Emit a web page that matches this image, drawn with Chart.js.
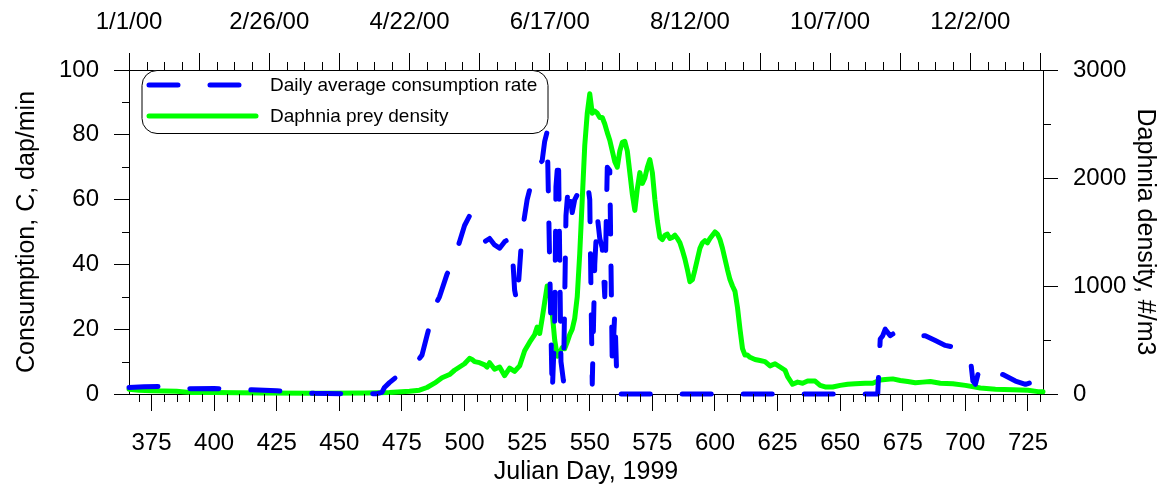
<!DOCTYPE html>
<html>
<head>
<meta charset="utf-8">
<script src="https://cdn.jsdelivr.net/npm/chart.js@4.4.1/dist/chart.umd.min.js"></script>
<style>
  html, body { margin: 0; padding: 0; background: #fff; }
  #wrap { width: 1162px; height: 487px; }
</style>
</head>
<body>
<div id="wrap"><canvas id="chart" width="1162" height="487"></canvas></div>
<script>
// Daily average consumption rate (dap/min), by Julian day
const consumptionDays = [366, 372, 380, 385, 390, 400, 405, 415, 425, 432, 440, 455, 465, 467, 468, 470, 474, 480, 483, 485, 488, 490, 493, 495, 498, 500, 502, 503, 505, 506, 508, 510, 512, 514, 516, 518, 519, 520, 521, 523, 525, 527, 529, 531, 532, 533, 534, 535, 536, 536.5, 537.5, 538.5, 539.5, 540.5, 541.5, 543, 544, 546, 548, 549, 550, 551, 552, 553, 554, 555, 556, 557, 558, 559, 560, 561, 600, 665, 666, 667, 668, 670, 672, 676, 680, 684, 688, 692, 698, 700, 702, 703, 704, 705, 707, 709, 711, 713, 715, 720, 724, 726, 728, 730];
const consumptionValues = [2.0, 2.2, 2.4, 2.0, 1.6, 1.7, 1.5, 1.3, 1.0, 0.5, 0.2, 0.0, 0.1, 0.5, 2.0, 3.5, 6, 9, 12, 18, 27, 30, 37, 40, 47, 52, 55, 54, 52, 51, 47, 48, 46, 45, 47, 48, 45, 32, 28, 50, 60, 66, 70, 72, 78, 81, 40, 0, 20, 64, 74, 10, 4, 55, 65, 56, 60, 63, 64, 66, 60, 3, 40, 55, 48, 45, 30, 70, 69, 8, 25.3, 0, 0, 0, 17, 18, 20, 18, 19, 18, 18, 18, 16.5, 15, 14, 12.5, 11, 4, 3, 6, 8, 7, 8, 6.5, 6, 4, 3, 3.5, 2.5, 1.5];

// Daphnia prey density (#/m3), by Julian day
const densityDays = [366, 370, 375, 380, 385, 390, 400, 420, 440, 460, 470, 478, 482, 485, 488, 491, 494, 496, 498, 500, 502, 503, 504, 506, 508, 509, 510, 512, 514, 516, 518, 520, 522, 524, 526, 528, 529, 530, 531, 532, 533, 534, 535, 536, 537, 538, 539, 540, 541, 542, 543, 544, 545, 546, 547, 548, 549, 550, 551, 552, 553, 554, 555, 556, 557, 558, 559, 560, 561, 562, 563, 564, 565, 566, 567, 568, 569, 570, 571, 572, 573, 574, 575, 576, 577, 578, 579, 580, 581, 582, 583, 584, 585, 586, 587, 588, 589, 590, 591, 592, 593, 594, 595, 596, 597, 598, 599, 600, 601, 602, 603, 604, 605, 606, 607, 608, 609, 610, 611, 612, 613, 614, 616, 618, 620, 622, 624, 626, 628, 629, 631, 633, 635, 637, 640, 642, 644, 647, 650, 653, 656, 660, 663, 666, 668, 671, 674, 677, 680, 683, 686, 690, 695, 700, 706, 712, 719, 725, 729, 731];
const densityValues = [45, 35, 30, 28, 25, 15, 15, 10, 8, 10, 15, 25, 35, 60, 100, 150, 180, 220, 250, 280, 330, 320, 300, 290, 270, 250, 290, 230, 250, 170, 240, 210, 260, 400, 480, 550, 620, 560, 700, 850, 1000, 950, 750, 500, 350, 380, 430, 420, 480, 550, 600, 700, 900, 1300, 1800, 2300, 2600, 2780, 2600, 2620, 2600, 2560, 2560, 2500, 2420, 2350, 2250, 2150, 2100, 2250, 2330, 2340, 2250, 2050, 1850, 1700, 1900, 2050, 1950, 2000, 2100, 2170, 2050, 1800, 1600, 1450, 1430, 1470, 1480, 1440, 1450, 1470, 1440, 1400, 1330, 1250, 1150, 1040, 1060, 1150, 1250, 1350, 1400, 1420, 1400, 1440, 1470, 1500, 1480, 1430, 1350, 1250, 1150, 1060, 1000, 950, 800, 600, 420, 360, 360, 340, 320, 310, 300, 260, 280, 250, 220, 160, 90, 110, 100, 120, 120, 80, 65, 65, 80, 90, 95, 100, 100, 130, 135, 140, 125, 115, 105, 110, 115, 100, 95, 80, 55, 45, 40, 35, 22, 20];

// Axis ticks
const dayTicks = [375, 400, 425, 450, 475, 500, 525, 550, 575, 600, 625, 650, 675, 700, 725];
const consumptionTicks = [0, 20, 40, 60, 80, 100];
const densityTicks = [0, 1000, 2000, 3000];
const dateTickDays = [366, 422, 478, 534, 590, 646, 702];
const dateTickLabels = ['1/1/00', '2/26/00', '4/22/00', '6/17/00', '8/12/00', '10/7/00', '12/2/00'];

const FONT = 'Liberation Sans, Arial, Helvetica, sans-serif';
const toPoints = (xs, ys) => xs.map((x, i) => ({ x: x, y: ys[i] }));

// every 28 days on the date axis, labelled every 56
const dateMajor = [];
for (let d = 366; d <= 731; d += 28) dateMajor.push(d);

// minor tick marks, drawn through each scale
const minorTicks = {
    id: 'minorTicks',
    afterDraw(chart) {
        const { ctx, scales } = chart;
        ctx.save();
        ctx.strokeStyle = '#000';
        ctx.lineWidth = 1;
        const line = (x1, y1, x2, y2) => {
            ctx.beginPath();
            ctx.moveTo(x1, y1);
            ctx.lineTo(x2, y2);
            ctx.stroke();
        };
        for (let d = 370; d <= 731; d += 5) {
            if (d % 25 === 0) continue;
            const px = Math.round(scales.x.getPixelForValue(d)) + 0.5;
            line(px, scales.x.top, px, scales.x.top + 8);
        }
        for (let d = 373; d <= 731; d += 7) {
            if ((d - 366) % 28 === 0) continue;
            const px = Math.round(scales.xTop.getPixelForValue(d)) + 0.5;
            line(px, scales.xTop.bottom, px, scales.xTop.bottom - 8);
        }
        [10, 30, 50, 70, 90].forEach(v => {
            const py = Math.round(scales.y.getPixelForValue(v)) + 0.5;
            line(scales.y.right - 7, py, scales.y.right, py);
        });
        [500, 1500, 2500].forEach(v => {
            const py = Math.round(scales.y2.getPixelForValue(v)) + 0.5;
            line(scales.y2.left, py, scales.y2.left + 8, py);
        });
        ctx.restore();
    }
};

// rounded legend box in the upper left of the plot
const boxLegend = {
    id: 'boxLegend',
    afterDraw(chart) {
        const ctx = chart.ctx;
        const ds = chart.data.datasets;
        const left = chart.chartArea.left + 13;
        const top = chart.chartArea.top;
        ctx.save();
        ctx.beginPath();
        ctx.roundRect(left, top + 0.5, 406, 63, 15);
        ctx.fillStyle = '#fff';
        ctx.fill();
        ctx.strokeStyle = '#000';
        ctx.lineWidth = 1;
        ctx.stroke();

        ctx.lineCap = 'round';
        ctx.lineWidth = 5;
        ctx.strokeStyle = ds[0].borderColor;
        ctx.setLineDash(ds[0].borderDash);
        ctx.beginPath();
        ctx.moveTo(left + 7, top + 15);
        ctx.lineTo(left + 98, top + 15);
        ctx.stroke();

        ctx.setLineDash([]);
        ctx.strokeStyle = ds[1].borderColor;
        ctx.beginPath();
        ctx.moveTo(left + 7, top + 46);
        ctx.lineTo(left + 114, top + 46);
        ctx.stroke();

        ctx.fillStyle = '#000';
        ctx.font = '19px ' + FONT;
        ctx.textBaseline = 'middle';
        ctx.fillText(ds[0].label, left + 128, top + 16);
        ctx.fillText(ds[1].label, left + 128, top + 47);
        ctx.restore();
    }
};

new Chart(document.getElementById('chart'), {
    type: 'line',
    data: {
        datasets: [
            {
                label: 'Daily average consumption rate',
                data: toPoints(consumptionDays, consumptionValues),
                yAxisID: 'y',
                borderColor: '#0000ff',
                borderWidth: 5,
                borderDash: [29, 32],
                borderCapStyle: 'round',
                borderJoinStyle: 'round',
                pointRadius: 0,
                tension: 0,
                clip: 6
            },
            {
                label: 'Daphnia prey density',
                data: toPoints(densityDays, densityValues),
                yAxisID: 'y2',
                borderColor: '#00ff00',
                borderWidth: 5,
                borderJoinStyle: 'round',
                borderCapStyle: 'round',
                pointRadius: 0,
                tension: 0,
                clip: 6
            }
        ]
    },
    options: {
        responsive: false,
        animation: false,
        devicePixelRatio: 1,
        layout: { padding: 0 },
        plugins: {
            legend: { display: false },
            tooltip: { enabled: false }
        },
        scales: {
            x: {
                type: 'linear',
                position: 'bottom',
                min: 366,
                max: 731,
                afterBuildTicks: s => { s.ticks = dayTicks.map(v => ({ value: v })); },
                afterFit: s => { s.height = 93; },
                grid: { drawOnChartArea: false, tickLength: 17, color: '#000' },
                border: { color: '#000', width: 1 },
                ticks: { color: '#000', font: { family: FONT, size: 24 }, padding: 18, maxRotation: 0, autoSkip: false, callback: v => String(v) },
                title: { display: true, text: 'Julian Day, 1999', color: '#000', font: { family: FONT, size: 25 }, padding: { top: 0, bottom: 0 } }
            },
            xTop: {
                type: 'linear',
                position: 'top',
                min: 366,
                max: 731,
                afterBuildTicks: s => { s.ticks = dateMajor.map(v => ({ value: v })); },
                afterFit: s => { s.height = 70; },
                grid: { drawOnChartArea: false, tickLength: 17, color: '#000' },
                border: { color: '#000', width: 1 },
                ticks: {
                    color: '#000',
                    font: { family: FONT, size: 24 },
                    padding: 16,
                    maxRotation: 0,
                    autoSkip: false,
                    callback: v => {
                        const i = dateTickDays.indexOf(v);
                        return i < 0 ? '' : dateTickLabels[i];
                    }
                }
            },
            y: {
                type: 'linear',
                position: 'left',
                min: 0,
                max: 100,
                afterBuildTicks: s => { s.ticks = consumptionTicks.map(v => ({ value: v })); },
                afterFit: s => { s.width = 129; },
                grid: { drawOnChartArea: false, tickLength: 15, color: '#000' },
                border: { color: '#000', width: 1 },
                ticks: { color: '#000', font: { family: FONT, size: 24 }, padding: 15, callback: v => String(v) },
                title: { display: true, text: 'Consumption, C, dap/min', color: '#000', font: { family: FONT, size: 25 }, padding: { top: 12, bottom: 0 } }
            },
            y2: {
                type: 'linear',
                position: 'right',
                min: 0,
                max: 3000,
                afterBuildTicks: s => { s.ticks = densityTicks.map(v => ({ value: v })); },
                afterFit: s => { s.width = 119; },
                grid: { drawOnChartArea: false, tickLength: 15, color: '#000' },
                border: { color: '#000', width: 1 },
                ticks: { color: '#000', font: { family: FONT, size: 24 }, padding: 15, callback: v => String(v) },
                title: { display: true, text: 'Daphnia density, #/m3', color: '#000', font: { family: FONT, size: 25 }, padding: { top: 2, bottom: 0 } }
            }
        }
    },
    plugins: [minorTicks, boxLegend]
});
</script>
</body>
</html>
